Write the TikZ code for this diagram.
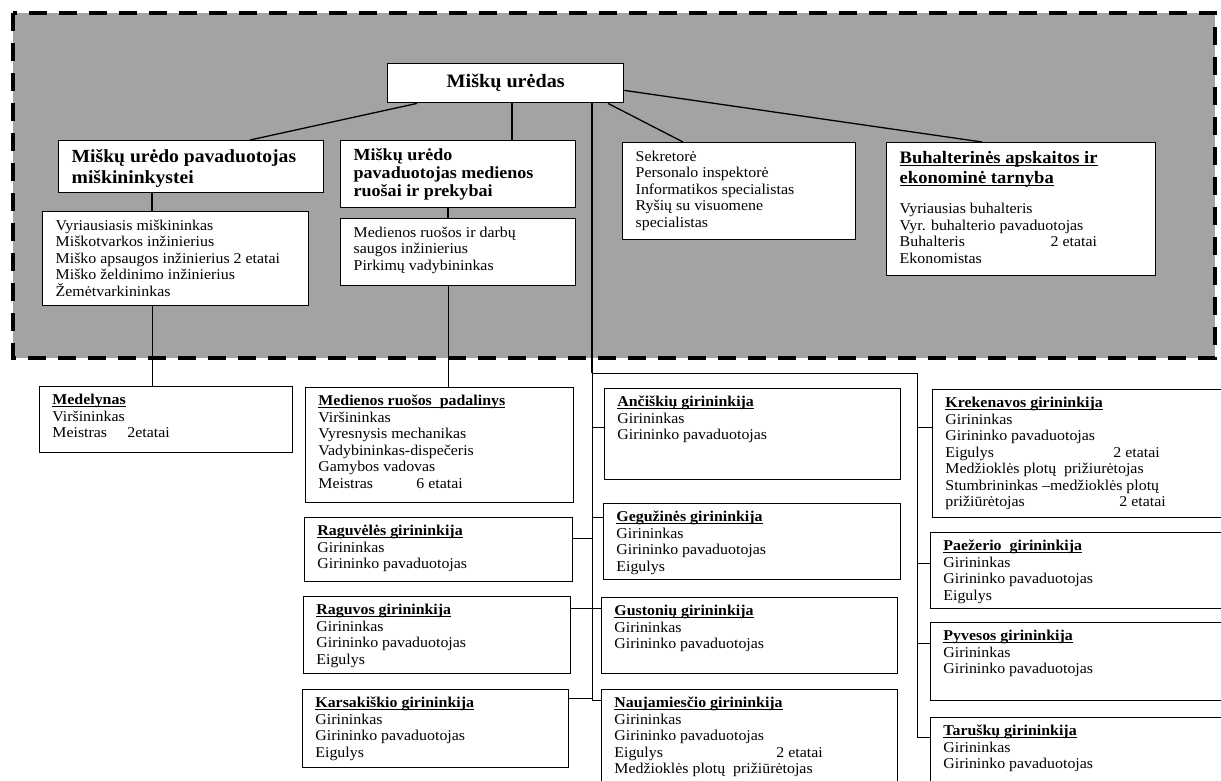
\documentclass[tikz,border=0pt]{standalone}
\usepackage{fontspec}
\setmainfont{Liberation Serif}[FakeStretch=1.06]
\newcommand{\ttl}[1]{{\bfseries\setbox0\hbox{#1}\rlap{\rule[-2.3pt]{\wd0}{1.1pt}}\box0}}
\newcommand{\tabto}[2]{\makebox[#1][l]{#2}}

\begin{document}
\begin{tikzpicture}[x=1pt, y=-1pt,
    unit/.style={draw, fill=white, line width=0.8pt, anchor=north west,
      inner xsep=13pt, inner ysep=7pt, font=\fontsize{15}{16.5}\selectfont},
    head/.style={unit, line width=1.4pt},
    link/.style={line width=0.8pt},
    mainlink/.style={line width=1.3pt}]
  \useasboundingbox (0,0) rectangle (1221,780);
  \clip (0,0) rectangle (1221,780);
  \fill[white] (0,0) rectangle (1221,780);
  % shaded management block
  \fill[black!36] (13,13) rectangle (1215,358);
  \draw[line width=3.5pt, dash pattern=on 18pt off 12pt] (13,13) rectangle (1215,358);

  \node[head, minimum width=236pt, minimum height=39pt, inner sep=0pt,
    font=\fontsize{19}{22}\selectfont\bfseries] (top) at (387,63) {Miškų urėdas};

  \node[head, font=\fontsize{18.5}{21}\selectfont\bfseries] (mp) at (58,140)
    {\parbox[t][38pt][t]{239pt}{\strut Miškų urėdo pavaduotojas\\ miškininkystei}};
  \node[head] (ml) at (42,211)
    {\parbox[t][80pt][t]{240pt}{\strut Vyriausiasis miškininkas\\ Miškotvarkos inžinierius\\
      Miško apsaugos inžinierius 2 etatai\\ Miško želdinimo inžinierius\\ Žemėtvarkininkas}};
  \node[head, font=\fontsize{17}{18}\selectfont\bfseries] (mr) at (340,140)
    {\parbox[t][53pt][t]{209pt}{\strut Miškų urėdo\\ pavaduotojas medienos\\ ruošai ir prekybai}};
  \node[head] (mrl) at (340,218)
    {\parbox[t][53pt][t]{209pt}{\strut Medienos ruošos ir darbų\\ saugos inžinierius\\ Pirkimų vadybininkas}};
  \node[head] (sek) at (622,142)
    {\parbox[t][83pt][t]{207pt}{\strut Sekretorė\\ Personalo inspektorė\\ Informatikos specialistas\\
      Ryšių su visuomene\\ specialistas}};
  \node[head] (buh) at (886,142)
    {\parbox[t][119pt][t]{243pt}{{\fontsize{17.5}{20}\selectfont\strut\ttl{Buhalterinės apskaitos ir}\\
      \ttl{ekonominė tarnyba}\par}\vspace{13.5pt}Vyriausias buhalteris\\ Vyr. buhalterio pavaduotojas\\
      \tabto{151pt}{Buhalteris}2 etatai\\ Ekonomistas}};

  % units below the block
  \node[unit] (med) at (39,386)
    {\parbox[t][52pt][t]{227pt}{\strut\ttl{Medelynas}\\ Viršininkas\\ \tabto{75pt}{Meistras}2etatai}};
  \node[unit] (pad) at (305,387)
    {\parbox[t][101pt][t]{242pt}{\strut\ttl{Medienos ruošos\ \ padalinys}\\ Viršininkas\\
      Vyresnysis mechanikas\\ Vadybininkas-dispečeris\\ Gamybos vadovas\\ \tabto{98pt}{Meistras}6 etatai}};
  \node[unit] (rgl) at (304,517)
    {\parbox[t][50pt][t]{242pt}{\strut\ttl{Raguvėlės girininkija}\\ Girininkas\\ Girininko pavaduotojas}};
  \node[unit] (rgv) at (303,596)
    {\parbox[t][63pt][t]{241pt}{\strut\ttl{Raguvos girininkija}\\ Girininkas\\ Girininko pavaduotojas\\ Eigulys}};
  \node[unit] (kar) at (302,689)
    {\parbox[t][64pt][t]{240pt}{\strut\ttl{Karsakiškio girininkija}\\ Girininkas\\ Girininko pavaduotojas\\ Eigulys}};

  \node[unit] (anc) at (604,388)
    {\parbox[t][77pt][t]{270pt}{\strut\ttl{Ančiškių girininkija}\\ Girininkas\\ Girininko pavaduotojas}};
  \node[unit] (geg) at (603,503)
    {\parbox[t][62pt][t]{271pt}{\strut\ttl{Gegužinės girininkija}\\ Girininkas\\ Girininko pavaduotojas\\ Eigulys}};
  \node[unit] (gus) at (601,597)
    {\parbox[t][62pt][t]{270pt}{\strut\ttl{Gustonių girininkija}\\ Girininkas\\ Girininko pavaduotojas}};
  \node[unit] (nau) at (601,689)
    {\parbox[t][96pt][t]{270pt}{\strut\ttl{Naujamiesčio girininkija}\\ Girininkas\\ Girininko pavaduotojas\\
      \tabto{162pt}{Eigulys}2 etatai\\ Medžioklės plotų\ \ prižiūrėtojas}};

  \node[unit] (kre) at (932,389)
    {\parbox[t][114pt][t]{284pt}{\strut\ttl{Krekenavos girininkija}\\ Girininkas\\ Girininko pavaduotojas\\
      \tabto{168pt}{Eigulys}2 etatai\\ Medžioklės plotų\ \ prižiurėtojas\\ Stumbrininkas –medžioklės plotų\\
      \tabto{174pt}{prižiūrėtojas}2 etatai}};
  \node[unit] (pae) at (930,532)
    {\parbox[t][62pt][t]{284pt}{\strut\ttl{Paežerio\ \ girininkija}\\ Girininkas\\ Girininko pavaduotojas\\ Eigulys}};
  \node[unit] (pyv) at (930,622)
    {\parbox[t][64pt][t]{284pt}{\strut\ttl{Pyvesos girininkija}\\ Girininkas\\ Girininko pavaduotojas}};
  \node[unit] (tar) at (930,717)
    {\parbox[t][76pt][t]{284pt}{\strut\ttl{Taruškų girininkija}\\ Girininkas\\ Girininko pavaduotojas}};

  % links inside the block
  \draw[mainlink] ([xshift=30pt]top.south west) -- ([xshift=192pt]mp.north west);
  \draw[mainlink] ([xshift=125pt]top.south west) -- ([xshift=125pt]top.south west |- mr.north);
  \draw[mainlink] ([xshift=221pt]top.south west) -- ([xshift=61pt]sek.north west);
  \draw[mainlink] ([yshift=13pt]top.south east) -- ([xshift=96pt]buh.north west);
  \draw[mainlink] ([xshift=94pt]mp.south west) -- ([xshift=94pt]mp.south west |- ml.north);
  \draw[mainlink] ([xshift=108pt]mr.south west) -- ([xshift=108pt]mr.south west |- mrl.north);
  \draw[link] ([xshift=110pt]ml.south west) -- ([xshift=110pt]ml.south west |- med.north);
  \draw[link] ([xshift=108pt]mrl.south west) -- ([xshift=108pt]mrl.south west |- pad.north);

  % spines to the forest districts
  \coordinate (spine) at (592,373);
  \coordinate (spinefoot) at (592,700);
  \coordinate (rspine) at (917,373);
  \coordinate (rspinefoot) at (917,737);
  \draw[mainlink] ([xshift=205pt]top.south west) -- (spine);
  \draw[link] (spinefoot) -- (spine) -- (rspine) -- (rspinefoot);

  \draw[link] ([yshift=-21pt]rgl.north east) -- ([yshift=-21pt]rgl.north east -| spine);
  \draw[link] ([yshift=-12pt]rgv.north east) -- ([yshift=-12pt]rgv.north east -| spine);
  \draw[link] ([yshift=-9pt]kar.north east) -- ([yshift=-9pt]kar.north east -| spine);
  \draw[link] ([yshift=-39pt]anc.north west) -- ([yshift=-39pt]anc.north west -| spine);
  \draw[link] ([yshift=-14pt]geg.north west) -- ([yshift=-14pt]geg.north west -| spine);
  \draw[link] ([yshift=-11pt]gus.north west) -- ([yshift=-11pt]gus.north west -| spine);
  \draw[link] ([yshift=-11pt]nau.north west) -- ([yshift=-11pt]nau.north west -| spine);
  \draw[link] ([yshift=-38pt]kre.north west) -- ([yshift=-38pt]kre.north west -| rspine);
  \draw[link] ([yshift=-31pt]pae.north west) -- ([yshift=-31pt]pae.north west -| rspine);
  \draw[link] ([yshift=-21pt]pyv.north west) -- ([yshift=-21pt]pyv.north west -| rspine);
  \draw[link] ([yshift=-20pt]tar.north west) -- ([yshift=-20pt]tar.north west -| rspine);
\end{tikzpicture}
\end{document}
